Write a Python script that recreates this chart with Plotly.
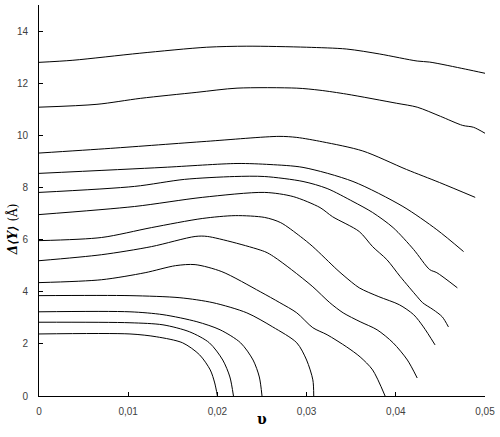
import plotly.graph_objects as go

# curves, top to bottom
x1 = [0, 0.0038, 0.0113, 0.0188, 0.0233, 0.0300, 0.0345, 0.0382, 0.0424, 0.0438, 0.0478, 0.0500]
y1 = [12.8, 12.88, 13.15, 13.38, 13.42, 13.38, 13.31, 13.12, 12.85, 12.81, 12.54, 12.38]

x2 = [0, 0.0065, 0.0114, 0.0177, 0.0222, 0.0289, 0.0315, 0.0345, 0.0401, 0.0424, 0.0450, 0.0475, 0.0487, 0.0500]
y2 = [11.08, 11.19, 11.42, 11.65, 11.81, 11.81, 11.73, 11.58, 11.23, 11.08, 10.73, 10.38, 10.31, 10.08]

x3 = [0, 0.0080, 0.0188, 0.0269, 0.0289, 0.0318, 0.0363, 0.0412, 0.0449, 0.0489]
y3 = [9.32, 9.5, 9.77, 9.96, 9.92, 9.75, 9.4, 8.69, 8.19, 7.62]

x4 = [0, 0.0139, 0.0222, 0.0259, 0.0296, 0.0352, 0.0408, 0.0446, 0.0476]
y4 = [8.54, 8.77, 8.92, 8.88, 8.77, 8.23, 7.27, 6.38, 5.54]

x5 = [0, 0.0107, 0.0163, 0.0219, 0.0253, 0.0296, 0.0323, 0.0352, 0.0374, 0.0397, 0.0420, 0.0438, 0.0446, 0.0469]
y5 = [7.81, 8.04, 8.31, 8.42, 8.42, 8.23, 7.96, 7.46, 7.04, 6.46, 5.62, 4.85, 4.73, 4.15]

x6 = [0, 0.0107, 0.0183, 0.0253, 0.0285, 0.0315, 0.0329, 0.0359, 0.0374, 0.0390, 0.0405, 0.0424, 0.0430, 0.0442, 0.0452, 0.0459]
y6 = [6.96, 7.27, 7.62, 7.81, 7.65, 7.23, 6.88, 6.31, 5.73, 5.23, 4.58, 3.81, 3.58, 3.31, 3.04, 2.65]

x7 = [0, 0.0070, 0.0126, 0.0183, 0.0220, 0.0253, 0.0271, 0.0293, 0.0307, 0.0334, 0.0343, 0.0359, 0.0381, 0.0404, 0.0420, 0.0431, 0.0444]
y7 = [5.96, 6.08, 6.46, 6.81, 6.92, 6.85, 6.65, 6.12, 5.73, 4.85, 4.58, 4.15, 3.81, 3.5, 3.12, 2.65, 1.96]

x8 = [0, 0.0070, 0.0126, 0.0175, 0.0189, 0.0253, 0.0263, 0.0283, 0.0307, 0.0326, 0.0341, 0.0360, 0.0379, 0.0397, 0.0413, 0.0424]
y8 = [5.19, 5.42, 5.73, 6.12, 6.12, 5.54, 5.35, 4.85, 4.19, 3.58, 3.19, 2.85, 2.54, 2.04, 1.38, 0.69]

x9 = [0, 0.0070, 0.0119, 0.0153, 0.0175, 0.0205, 0.0248, 0.0270, 0.0289, 0.0307, 0.0323, 0.0345, 0.0360, 0.0374, 0.0388]
y9 = [4.35, 4.46, 4.73, 5.0, 5.04, 4.77, 4.0, 3.58, 3.19, 2.62, 2.35, 1.88, 1.5, 1.0, 0.0]

x10 = [0, 0.0102, 0.0158, 0.0195, 0.0233, 0.0262, 0.0289, 0.0300, 0.0307, 0.0308]
y10 = [3.85, 3.85, 3.77, 3.58, 3.19, 2.65, 2.04, 1.38, 0.62, 0.0]

x11 = [0, 0.0102, 0.0139, 0.0177, 0.0203, 0.0226, 0.0240, 0.0247, 0.0250]
y11 = [3.23, 3.23, 3.12, 2.85, 2.54, 2.04, 1.38, 0.73, 0.0]

x12 = [0, 0.0102, 0.0139, 0.0169, 0.0191, 0.0206, 0.0214, 0.0218]
y12 = [2.83, 2.81, 2.73, 2.46, 2.04, 1.38, 0.73, 0.0]

x13 = [0, 0.0102, 0.0132, 0.0161, 0.0180, 0.0192, 0.0197, 0.0200]
y13 = [2.38, 2.38, 2.27, 2.04, 1.58, 1.0, 0.5, 0.0]

curves = [(x1, y1), (x2, y2), (x3, y3), (x4, y4), (x5, y5), (x6, y6), (x7, y7),
          (x8, y8), (x9, y9), (x10, y10), (x11, y11), (x12, y12), (x13, y13)]

x_ticks = [0, 0.01, 0.02, 0.03, 0.04, 0.05]
x_labels = ["0", "0,01", "0,02", "0,03", "0,04", "0,05"]
y_ticks = [0, 2, 4, 6, 8, 10, 12, 14]

fig = go.Figure()
for xs, ys in curves:
    fig.add_trace(go.Scatter(x=xs, y=ys, mode="lines",
                             line=dict(color="black", width=1, shape="spline", smoothing=0.8),
                             showlegend=False, hoverinfo="skip"))

tickfont = dict(family="Liberation Sans, Arial", size=10, color="#404040")
fig.update_xaxes(range=[0, 0.05], tickvals=x_ticks, ticktext=x_labels,
                 showline=True, linecolor="black", linewidth=1,
                 ticks="inside", ticklen=4, tickcolor="black",
                 showgrid=False, zeroline=False, tickfont=tickfont,
                 ticklabelstandoff=6)
fig.update_yaxes(range=[0, 15], tickvals=y_ticks,
                 showline=True, linecolor="black", linewidth=1,
                 ticks="inside", ticklen=4, tickcolor="black",
                 showgrid=False, zeroline=False, tickfont=tickfont,
                 ticklabelstandoff=8)

fig.add_annotation(text="<b>υ</b>", xref="paper", yref="paper", x=0.5, y=-0.058,
                   showarrow=False, font=dict(family="DejaVu Serif", size=14, color="black"),
                   xanchor="center", yanchor="middle")
fig.add_annotation(text="<b><i>Δ⟨Y⟩</i></b> (Å)", xref="paper", yref="paper", x=-0.06, y=0.427,
                   textangle=-90, showarrow=False, xanchor="center", yanchor="middle",
                   font=dict(family="DejaVu Serif", size=12, color="black"))

fig.update_layout(width=500, height=437, plot_bgcolor="white", paper_bgcolor="white",
                  margin=dict(l=39, r=15, t=5, b=41))

fig.write_html("out.html", config={"displayModeBar": False},
               post_script="document.body.style.margin='0';")
